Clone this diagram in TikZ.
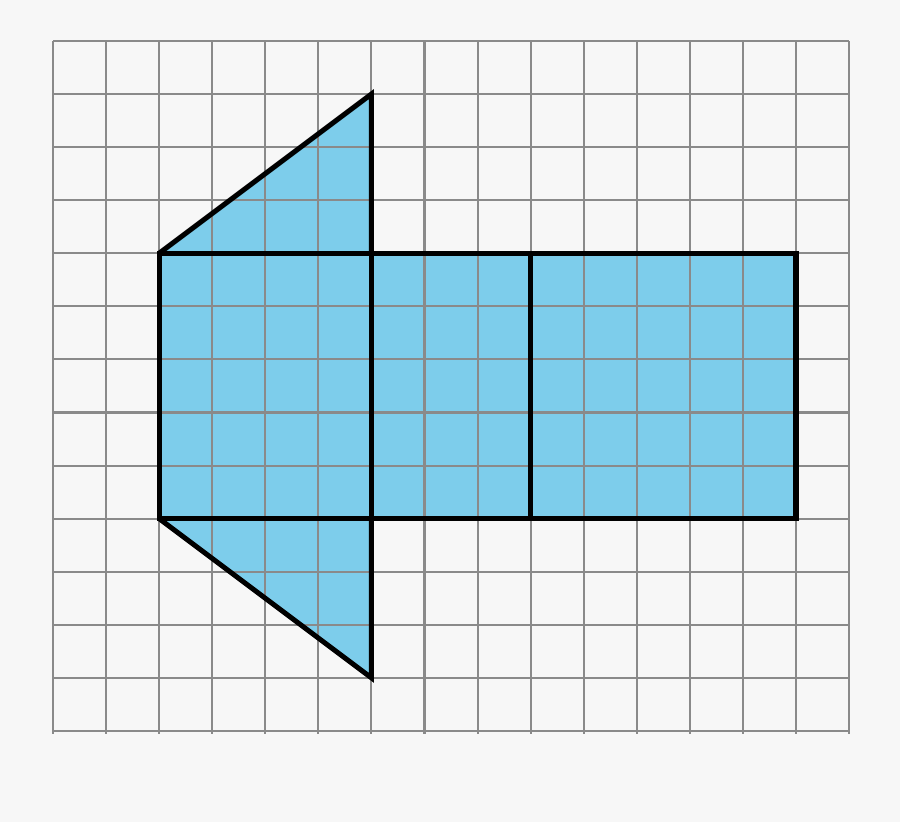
\documentclass[tikz,border=0pt]{standalone}
\begin{document}
\begin{tikzpicture}[x=1cm,y=1cm,
  gridline/.style={draw=gridgray,line width=1.1pt},
  outline/.style={draw=black,line width=2.7pt,line join=miter},
  shapefill/.style={fill=netblue}]
\definecolor{gridgray}{HTML}{8A8A8A}
\definecolor{netblue}{HTML}{7DCDEB}
\definecolor{bg}{HTML}{F7F7F7}
\useasboundingbox (-0.9987,-1.7147) rectangle (15.9598,13.7726);
\fill[bg] (-0.9987,-1.7147) rectangle (15.9598,13.7726);
% fills
\fill[shapefill] (2,9) -- (6,12) -- (6,9) -- cycle;
\fill[shapefill] (2,4) rectangle (14,9);
\fill[shapefill] (2,4) -- (6,1) -- (6,4) -- cycle;
% grid
\foreach \i in {0,...,15} \draw[gridline] (\i,-0.05) -- (\i,13);
\foreach \j in {0,...,13} \draw[gridline] (0,\j) -- (15,\j);
% outlines
\draw[outline] (2,9) -- (6,12) -- (6,9);
\draw[outline] (2,4) rectangle (14,9);
\draw[outline] (6,4) -- (6,9);
\draw[outline] (9,4) -- (9,9);
\draw[outline] (2,4) -- (6,1) -- (6,4);
\end{tikzpicture}
\end{document}
